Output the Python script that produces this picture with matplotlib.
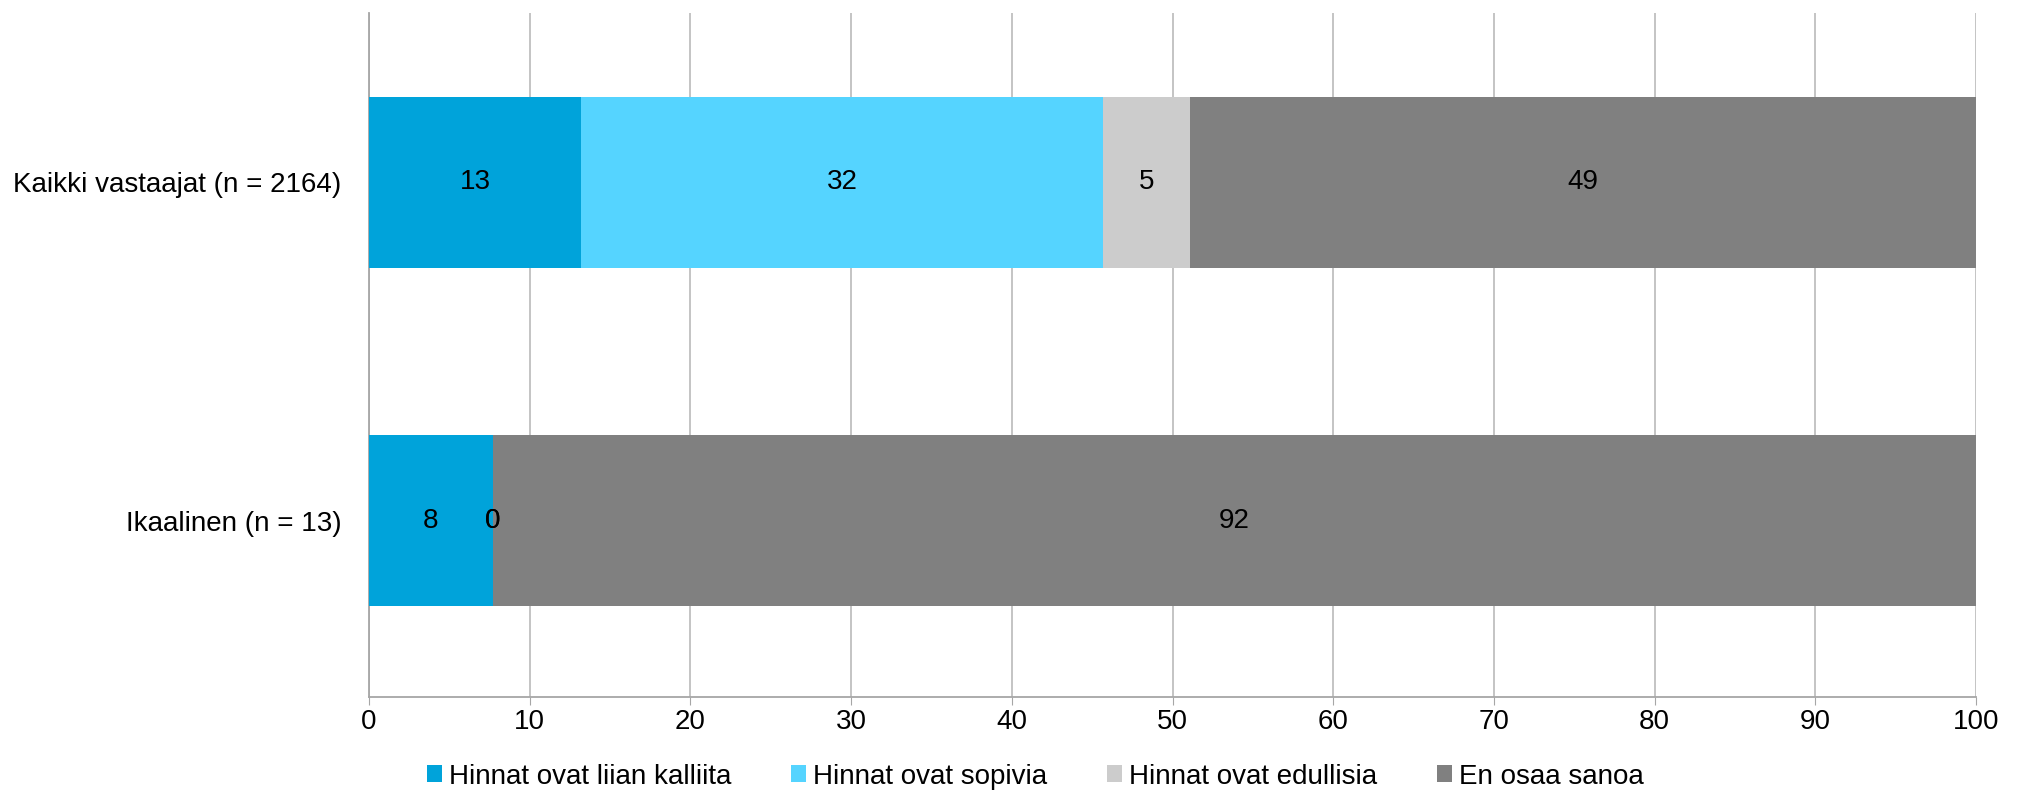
import numpy as np
import matplotlib.pyplot as plt

plt.rcParams['font.family'] = ['Liberation Sans', 'DejaVu Sans']

# data
categories = ['Kaikki vastaajat (n = 2164)', 'Ikaalinen (n = 13)']
series = ['Hinnat ovat liian kalliita', 'Hinnat ovat sopivia',
          'Hinnat ovat edullisia', 'En osaa sanoa']
values = {
    'Hinnat ovat liian kalliita': [13.2, 7.7],
    'Hinnat ovat sopivia': [32.45, 0.0],
    'Hinnat ovat edullisia': [5.45, 0.0],
    'En osaa sanoa': [48.9, 92.3],
}
colors = ['#00A3DA', '#55D4FF', '#CCCCCC', '#808080']

fig = plt.figure(figsize=(20.24, 7.94), dpi=100)
ax = fig.add_axes([0.1823, 0.1222, 0.9763 - 0.1823, 0.9836 - 0.1222])

y = np.arange(len(categories))
left = np.zeros(len(categories))
for name, col in zip(series, colors):
    v = np.array(values[name])
    bars = ax.barh(y, v, left=left, height=0.505, color=col, label=name, zorder=3)
    txts = ax.bar_label(bars, labels=[f'{x:.0f}' for x in v], label_type='center',
                        fontsize=20, color='black')
    for t in txts:
        t.set_zorder(10)
    left += v

ax.set_xlim(0, 100)
ax.set_ylim(1.52, -0.5)
ax.set_xticks(np.arange(0, 101, 10))
ax.set_yticks(y)
ax.set_yticklabels(categories)
ax.tick_params(axis='y', length=0, pad=20, labelsize=20)
ax.tick_params(axis='x', length=6, color='#A6A6A6', labelsize=20, pad=3)
ax.grid(axis='x', color='#BFBFBF', linewidth=1.3, zorder=0)
for s in ['top', 'right']:
    ax.spines[s].set_visible(False)
ax.spines['bottom'].set_color('#A6A6A6')
ax.spines['left'].set_color('#A6A6A6')
ax.spines['bottom'].set_linewidth(1.3)
ax.spines['left'].set_linewidth(1.3)

fig.legend(loc='center', bbox_to_anchor=(0.5115, 0.022), ncol=4, frameon=False,
           fontsize=20, handlelength=0.55, handleheight=0.55, handletextpad=0.25,
           columnspacing=2.15)

fig.savefig('out.png', dpi=100)
